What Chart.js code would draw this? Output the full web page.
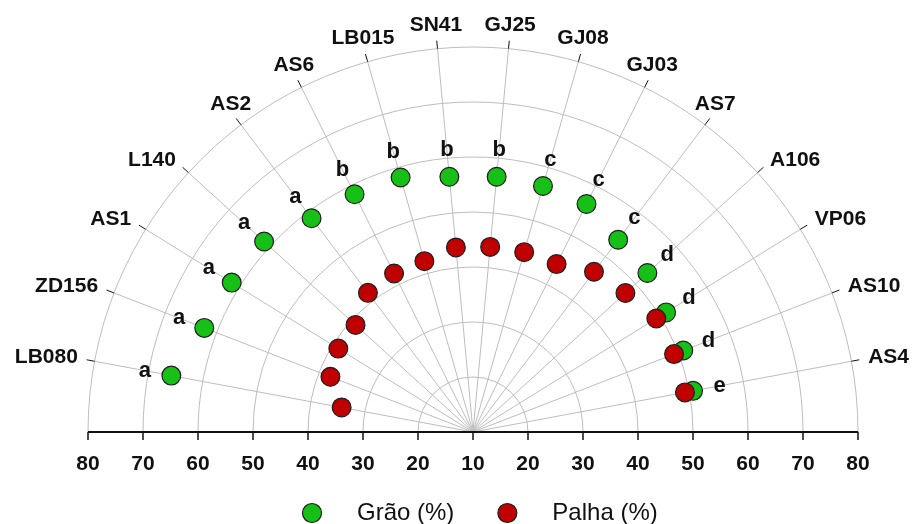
<!DOCTYPE html>
<html>
<head>
<meta charset="utf-8">
<script src="https://cdn.jsdelivr.net/npm/chart.js@4/dist/chart.umd.min.js"></script>
<style>
  html, body { margin: 0; padding: 0; background: #ffffff; overflow: hidden; }
  #wrap { position: relative; width: 912px; height: 524px; overflow: hidden; }
  canvas { display: block; }
</style>
</head>
<body>
<div id="wrap"><canvas id="chart" width="912" height="830"></canvas></div>
<script>
// Cultivars, left to right around the half circle
const cultivars = ['LB080', 'ZD156', 'AS1', 'L140', 'AS2', 'AS6', 'LB015', 'SN41',
                   'GJ25', 'GJ08', 'GJ03', 'AS7', 'A106', 'VP06', 'AS10', 'AS4'];
// Grain share (%)
const grao  = [65.8, 62.4, 61.6, 61.4, 58.7, 58.3, 58.1, 56.6, 56.6, 56.5, 56.3, 53.8, 52.9, 51.3, 51.0, 50.7];
// Straw share (%)
const palha = [34.3, 37.8, 38.8, 38.9, 41.7, 42.2, 42.3, 43.7, 43.8, 44.0, 44.1, 46.5, 47.5, 49.2, 49.2, 49.2];
// Mean-comparison letters for grain
const letras = ['a', 'a', 'a', 'a', 'a', 'b', 'b', 'b', 'b', 'c', 'c', 'c', 'd', 'd', 'd', 'e'];
// Radial tick values (radius starts at 10 in the centre)
const radialTicks = [10, 20, 30, 40, 50, 60, 70, 80];
const seriesNames = ['Grão (%)', 'Palha (%)'];

// The radar scale spans a full turn; only the upper half carries cultivars.
const SLOTS = 2 * (cultivars.length + 1);
const labels = [];
const grainData = [];
const strawData = [];
for (let i = 0; i < SLOTS; i++) {
  const k = i - 1;
  const used = k >= 0 && k < cultivars.length;
  labels.push(used ? cultivars[k] : '');
  grainData.push(used ? grao[k] : null);
  strawData.push(used ? palha[k] : null);
}
const isUsed = i => i >= 1 && i <= cultivars.length;

const FONT = "'Liberation Sans', Arial, Helvetica, sans-serif";
const GRID = '#bdbdbd';
const INK = '#111111';
const GREEN = '#17c017';
const RED = '#c00000';
const EDGE = '#1e1e1e';

const halfPolar = {
  id: 'halfPolar',
  beforeDatasetsDraw(chart) {
    const s = chart.scales.r;
    const ctx = chart.ctx;
    const xc = s.xCenter, yc = s.yCenter;
    const R = s.drawingArea;
    ctx.save();
    // blank the lower half of the polar grid
    ctx.fillStyle = '#ffffff';
    ctx.fillRect(0, yc, chart.width, chart.height - yc);

    // horizontal value axis
    ctx.strokeStyle = INK;
    ctx.lineWidth = 2;
    ctx.beginPath();
    ctx.moveTo(xc - R, yc);
    ctx.lineTo(xc + R, yc);
    ctx.stroke();

    ctx.font = 'bold 21px ' + FONT;
    ctx.fillStyle = INK;
    ctx.textAlign = 'center';
    ctx.textBaseline = 'alphabetic';
    ctx.lineWidth = 1.5;
    radialTicks.forEach(v => {
      const d = s.getDistanceFromCenterForValue(v);
      const xs = d === 0 ? [xc] : [xc - d, xc + d];
      xs.forEach(x => {
        ctx.beginPath();
        ctx.moveTo(x, yc);
        ctx.lineTo(x, yc + 8);
        ctx.stroke();
        ctx.fillText(String(v), x, yc + 38);
      });
    });

    // cultivar ticks and names around the outer arc
    ctx.lineWidth = 1;
    ctx.font = 'bold 21px ' + FONT;
    for (let i = 0; i < labels.length; i++) {
      if (!isUsed(i)) continue;
      const p1 = s.getPointPosition(i, R);
      const p2 = s.getPointPosition(i, R + 8);
      ctx.beginPath();
      ctx.moveTo(p1.x, p1.y);
      ctx.lineTo(p2.x, p2.y);
      ctx.stroke();
      const a = s.getPointPosition(i, R + 17);
      const elev = Math.atan2(yc - a.y, Math.abs(a.x - xc)) * 180 / Math.PI;
      if (elev < 45) {
        ctx.textAlign = a.x < xc ? 'right' : 'left';
        ctx.textBaseline = 'middle';
        ctx.fillText(labels[i], a.x, a.y - 1);
      } else {
        ctx.textAlign = 'center';
        ctx.textBaseline = 'alphabetic';
        ctx.fillText(labels[i], a.x, a.y - 1);
      }
    }
    ctx.restore();
  },
  afterDatasetsDraw(chart) {
    const s = chart.scales.r;
    const ctx = chart.ctx;
    ctx.save();
    // letters beside the grain markers
    ctx.font = 'bold 22px ' + FONT;
    ctx.fillStyle = INK;
    ctx.textAlign = 'center';
    ctx.textBaseline = 'middle';
    letras.forEach((t, k) => {
      const d = s.getDistanceFromCenterForValue(grao[k]) + 27;
      const p = s.getPointPosition(k + 1, d);
      ctx.fillText(t, p.x, p.y);
    });

    // legend
    const ly = s.yCenter + 81;
    let x = s.xCenter - 171;
    ctx.font = '24px ' + FONT;
    ctx.textAlign = 'left';
    ctx.textBaseline = 'middle';
    chart.data.datasets.forEach(ds => {
      ctx.beginPath();
      ctx.arc(x + 10, ly, 9.5, 0, Math.PI * 2);
      ctx.fillStyle = ds.pointBackgroundColor;
      ctx.fill();
      ctx.lineWidth = 1.2;
      ctx.strokeStyle = EDGE;
      ctx.stroke();
      ctx.fillStyle = INK;
      ctx.fillText(ds.label, x + 55, ly);
      x += 55 + ctx.measureText(ds.label).width + 43;
    });
    ctx.restore();
  }
};

new Chart(document.getElementById('chart'), {
  type: 'radar',
  data: {
    labels: labels,
    datasets: [
      {
        label: seriesNames[0],
        data: grainData,
        order: 1,
        showLine: false,
        fill: false,
        pointRadius: 9.4,
        pointBorderWidth: 1.2,
        pointBackgroundColor: GREEN,
        pointBorderColor: EDGE,
        backgroundColor: GREEN,
        borderColor: EDGE
      },
      {
        label: seriesNames[1],
        data: strawData,
        order: 0,
        showLine: false,
        fill: false,
        pointRadius: 9.4,
        pointBorderWidth: 1.2,
        pointBackgroundColor: RED,
        pointBorderColor: EDGE,
        backgroundColor: RED,
        borderColor: EDGE
      }
    ]
  },
  options: {
    responsive: false,
    animation: false,
    events: [],
    layout: { padding: { left: 88, right: 54, top: 47, bottom: 13 } },
    plugins: { legend: { display: false }, tooltip: { enabled: false } },
    scales: {
      r: {
        min: 10,
        max: 80,
        startAngle: -90,
        ticks: { display: false, stepSize: 10 },
        pointLabels: { display: false },
        grid: { circular: true, color: GRID, lineWidth: 1 },
        angleLines: {
          color: ctx => isUsed(ctx.index) ? GRID : 'rgba(0,0,0,0)',
          lineWidth: 1
        }
      }
    }
  },
  plugins: [halfPolar]
});
</script>
</body>
</html>
